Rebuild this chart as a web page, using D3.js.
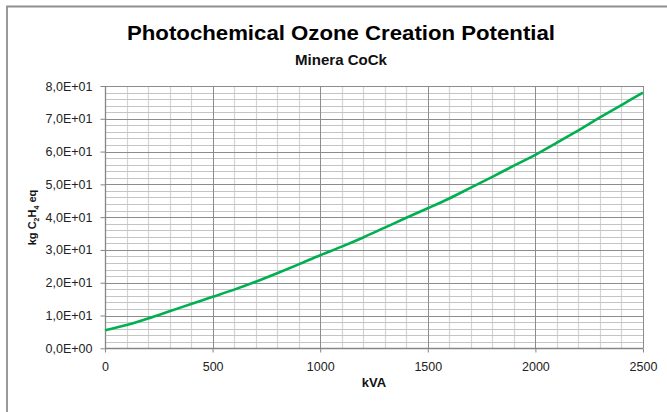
<!DOCTYPE html>
<html><head><meta charset="utf-8">
<script src="https://cdn.jsdelivr.net/npm/d3@7"></script>
<style>html,body{margin:0;padding:0;background:#fff;}svg{display:block;font-family:"Liberation Sans",Arial,sans-serif;}</style>
</head><body>
<svg id="c" width="667" height="412"></svg>
<script>
const kva = [0,100,200,300,400,500,600,700,800,900,1000,1100,1200,1300,1400,1500,1600,1700,1800,1900,2000,2100,2200,2300,2400,2500];
const potential = [5.5,7.1,9.1,11.3,13.5,15.7,17.9,20.3,22.9,25.6,28.4,31.0,33.8,36.8,39.8,42.7,45.7,49.0,52.3,55.7,59.0,62.7,66.5,70.4,74.2,78.0];
const yTicks = [0,10,20,30,40,50,60,70,80];
const yTickLabels = ["0,0E+00","1,0E+01","2,0E+01","3,0E+01","4,0E+01","5,0E+01","6,0E+01","7,0E+01","8,0E+01"];
const xTicks = [0,500,1000,1500,2000,2500];
const xTickLabels = ["0","500","1000","1500","2000","2500"];
const title = "Photochemical Ozone Creation Potential";
const subtitle = "Minera CoCk";

const svg = d3.select("#c");
const L=105, R=643, T=86, B=348.3;
const x = d3.scaleLinear().domain([0,2500]).range([L,R]);
const y = d3.scaleLinear().domain([0,80]).range([B,T]);

// outer chart border (clipped)
svg.append("path").attr("d","M7,412 V6.5 H667").attr("fill","none").attr("stroke","#8f8f8f").attr("stroke-width",1.8);

const g = svg.append("g");
// minor vertical grid
g.selectAll(".mv").data(d3.range(100,2500,100).filter(v=>v%500!==0)).join("line")
  .attr("x1",d=>Math.round(x(d))+0.5).attr("x2",d=>Math.round(x(d))+0.5).attr("y1",T).attr("y2",B)
  .attr("stroke","#d4d4d4").attr("stroke-width",1.2);
// minor horizontal grid
g.selectAll(".mh").data(d3.range(2,80,2).filter(v=>v%10!==0)).join("line")
  .attr("x1",L).attr("x2",R).attr("y1",d=>Math.round(y(d))+0.5).attr("y2",d=>Math.round(y(d))+0.5)
  .attr("stroke","#c4c4c4").attr("stroke-width",1);
// major vertical
g.selectAll(".Mv").data(xTicks.slice(1)).join("line")
  .attr("x1",d=>Math.round(x(d))+0.5).attr("x2",d=>Math.round(x(d))+0.5).attr("y1",T).attr("y2",B)
  .attr("stroke","#8c8c8c").attr("stroke-width",1);
// major horizontal
g.selectAll(".Mh").data(yTicks.slice(1)).join("line")
  .attr("x1",L).attr("x2",R).attr("y1",d=>Math.round(y(d))+0.5).attr("y2",d=>Math.round(y(d))+0.5)
  .attr("stroke","#8c8c8c").attr("stroke-width",1);

// axes
const yAxis = d3.axisLeft(y).tickValues(yTicks).tickFormat((d,i)=>yTickLabels[i]).tickSize(5).tickPadding(8);
const ya = svg.append("g").attr("transform",`translate(${L+0.5},0)`).call(yAxis);
const xAxis = d3.axisBottom(x).tickValues(xTicks).tickFormat((d,i)=>xTickLabels[i]).tickSize(4).tickPadding(10);
const xa = svg.append("g").attr("transform",`translate(0,${Math.round(B)+0.5})`).call(xAxis);
[ya,xa].forEach(a=>{
  a.select(".domain").attr("stroke","#868686").attr("stroke-width",1.3);
  a.selectAll(".tick line").attr("stroke","#868686");
  a.selectAll("text").attr("fill","#222").attr("font-size","12.5px").attr("font-family","'Liberation Sans',Arial,sans-serif");
});
ya.select(".domain").attr("d",`M0,${T}V${B}`);
xa.select(".domain").attr("d",`M${L},0H${R}`);

// line
const line = d3.line().x((d,i)=>x(kva[i])).y(d=>y(d)).curve(d3.curveMonotoneX);
svg.append("path").datum(potential).attr("d",line).attr("fill","none")
  .attr("stroke","#00b050").attr("stroke-width",2.6);

// titles
svg.append("text").attr("x",341).attr("y",39.5).attr("text-anchor","middle")
  .attr("font-weight","bold").attr("font-size","20px").attr("textLength",428).attr("lengthAdjust","spacingAndGlyphs")
  .attr("fill","#000").text(title);
svg.append("text").attr("x",341).attr("y",65).attr("text-anchor","middle")
  .attr("font-weight","bold").attr("font-size","14.5px").attr("textLength",92).attr("lengthAdjust","spacingAndGlyphs")
  .attr("fill","#111").text(subtitle);
svg.append("text").attr("x",(L+R)/2).attr("y",387).attr("text-anchor","middle")
  .attr("font-weight","bold").attr("font-size","13px").attr("fill","#111").text("kVA");

const yl = svg.append("text").attr("transform",`translate(36,217.5) rotate(-90)`).attr("text-anchor","middle")
  .attr("font-weight","bold").attr("font-size","11px").attr("fill","#111");
yl.append("tspan").text("kg C");
yl.append("tspan").attr("font-size","7px").attr("dy",2.5).text("2");
yl.append("tspan").attr("dy",-2.5).text("H");
yl.append("tspan").attr("font-size","7px").attr("dy",2.5).text("4");
yl.append("tspan").attr("dy",-2.5).text(" eq");
</script>
</body></html>
